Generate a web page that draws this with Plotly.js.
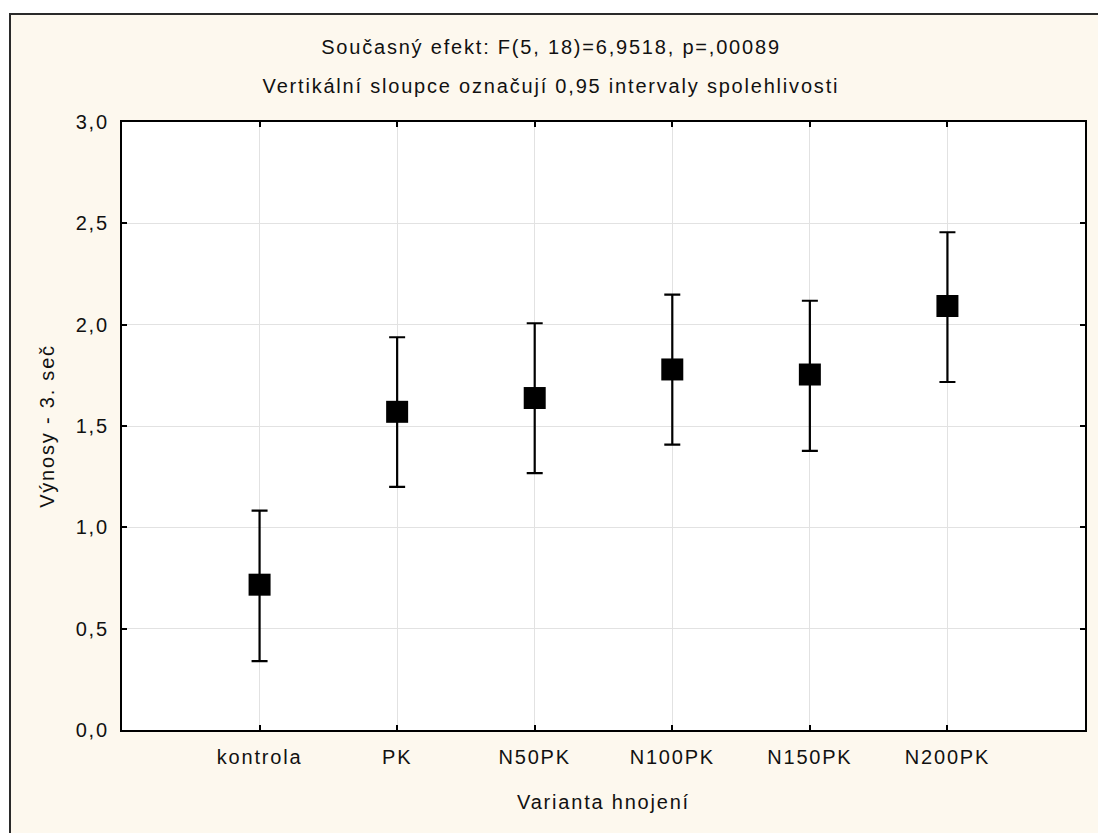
<!DOCTYPE html>
<html>
<head>
<meta charset="utf-8">
<script src="https://cdn.plot.ly/plotly-3.0.1.min.js"></script>
<style>
  html, body { margin: 0; padding: 0; background: #ffffff; width: 1098px; height: 833px; overflow: hidden; }
  #frame { position: absolute; left: 9px; top: 13px; width: 1089px; height: 820px;
           border-left: 2px solid #2a2a2a; border-top: 2px solid #2a2a2a; background: #FDF8EE; }
  #chart { width: 1087px; height: 818px; }
  #chart text { letter-spacing: 1.8px; }
</style>
</head>
<body>
<div id="frame"><div id="chart"></div></div>
<script>
const categories = ["kontrola", "PK", "N50PK", "N100PK", "N150PK", "N200PK"];
const means = [0.717, 1.570, 1.638, 1.779, 1.754, 2.092];
const upper = [1.082, 1.938, 2.007, 2.148, 2.118, 2.456];
const lower = [0.340, 1.200, 1.267, 1.408, 1.377, 1.717];
const yTicks = [0, 0.5, 1.0, 1.5, 2.0, 2.5, 3.0];
const titleLine1 = "Současný efekt: F(5, 18)=6,9518, p=,00089";
const titleLine2 = "Vertikální sloupce označují 0,95 intervaly spolehlivosti";

const xIdx = categories.map((_, i) => i);
const errPlus = upper.map((u, i) => u - means[i]);
const errMinus = lower.map((l, i) => means[i] - l);

const FAM = "Liberation Sans, Arial, sans-serif";
const font = { family: FAM, size: 20, color: "#111111" };

const trace = {
  type: "scatter",
  mode: "markers",
  x: xIdx,
  y: means,
  marker: { symbol: "square", size: 22, color: "#000000" },
  error_y: { type: "data", symmetric: false, array: errPlus, arrayminus: errMinus,
             color: "#000000", thickness: 2.2, width: 8 },
  hoverinfo: "x+y",
  showlegend: false
};

const H = 818, W = 1087, ML = 111, MR = 13, MT = 107, MB = 103;
const plotH = H - MT - MB, plotW = W - ML - MR;

const layout = {
  width: W, height: H,
  margin: { l: ML, r: MR, t: MT, b: MB },
  paper_bgcolor: "#FDF8EE",
  plot_bgcolor: "#FFFFFF",
  separators: ", ",
  font: font,
  title: {
    text: titleLine1,
    xref: "container", x: 540 / W, xanchor: "center",
    yref: "container", y: 1 - 32 / H, yanchor: "middle",
    font: font
  },
  annotations: [{
    text: titleLine2,
    xref: "paper", x: (540 - ML) / plotW, xanchor: "center",
    yref: "paper", y: 1 + (MT - 71) / plotH, yanchor: "middle",
    showarrow: false, font: font
  }],
  xaxis: {
    range: [-1, 6],
    tickmode: "array", tickvals: xIdx, ticktext: categories,
    ticks: "inside", ticklen: 5, tickwidth: 1.5, tickcolor: "#000",
    showline: true, linecolor: "#000", linewidth: 2.2, mirror: "allticks",
    showgrid: true, gridcolor: "#E2E2E2", gridwidth: 1,
    zeroline: false,
    ticklabelstandoff: 8,
    tickfont: font,
    title: { text: "Varianta hnojení", standoff: 28, font: font },
    fixedrange: true
  },
  yaxis: {
    range: [0, 3],
    tickmode: "array", tickvals: yTicks,
    tickformat: ".1f",
    ticks: "inside", ticklen: 5, tickwidth: 1.5, tickcolor: "#000",
    showline: true, linecolor: "#000", linewidth: 2.2, mirror: "allticks",
    showgrid: true, gridcolor: "#E2E2E2", gridwidth: 1,
    zeroline: false,
    ticklabelstandoff: 7,
    tickfont: font,
    title: { text: "Výnosy - 3. seč", standoff: 21, font: font },
    fixedrange: true
  }
};

Plotly.newPlot("chart", [trace], layout, { displayModeBar: false });
</script>
</body>
</html>
